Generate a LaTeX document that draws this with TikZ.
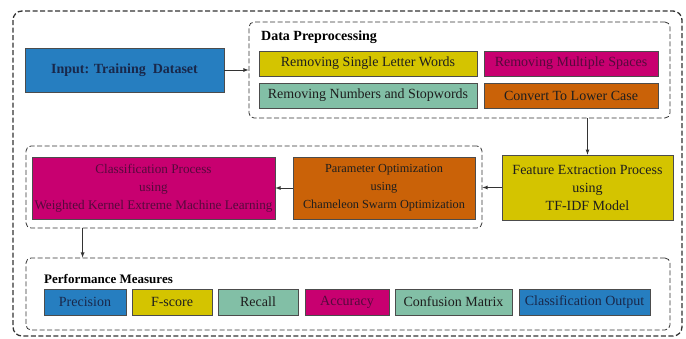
\documentclass[tikz,border=0pt]{standalone}
\usepackage{fontspec}
\setmainfont{Liberation Serif}
\usepackage{xcolor}
\usepackage{tikz}
\usetikzlibrary{shapes, positioning, arrows}
\definecolor{boxblue}{RGB}{38,126,192}
\definecolor{boxyellow}{RGB}{212,196,0}
\definecolor{boxmagenta}{RGB}{200,0,112}
\definecolor{boxgreen}{RGB}{130,191,166}
\definecolor{boxorange}{RGB}{202,98,8}
\definecolor{darktext}{RGB}{30,30,30}
\definecolor{navytext}{RGB}{25,40,75}
\definecolor{purpletext}{RGB}{85,10,60}

\begin{document}
\begin{tikzpicture}[x=1pt, y=-1pt,
	procbox/.style={draw=black!70, line width=0.6pt, inner sep=0pt, align=center,
		text=darktext, font=\fontsize{14}{18}\selectfont},
	dashbox/.style={draw=black!80, line width=0.8pt, dash pattern=on 5pt off 2.5pt,
		rounded corners=5pt, inner sep=0pt},
	flow/.style={-latex, draw=black!80, line width=0.8pt}]
				\useasboundingbox (0,0) rectangle (686,338);
				
				% outer frame
				\draw [dashbox, line width=1.3pt, rounded corners=9pt] (13,11) rectangle (682,336);
				
				\node [procbox, fill=boxblue, text=navytext, minimum width=199pt, minimum height=44pt,
				font=\fontsize{14}{18}\selectfont\bfseries] (input) at (124.5,70) {Input: Training~~Dataset};
				
				% data preprocessing
				\node [dashbox, minimum width=421pt, minimum height=96pt] (prep) at (459.5,70) {};
				\node [anchor=west, inner sep=0pt, font=\fontsize{14}{18}\selectfont\bfseries] (preptitle) at (261,37) {Data Preprocessing};
				\node [procbox, fill=boxyellow, minimum width=218pt, minimum height=25pt] (single) at (368,63.5) {Removing Single Letter Words};
				\node [procbox, fill=boxmagenta, text=purpletext, minimum width=174pt, minimum height=25pt] (spaces) at (571,63.5) {Removing Multiple Spaces};
				\node [procbox, fill=boxgreen, minimum width=218pt, minimum height=25pt] (numbers) at (368,95.5) {Removing Numbers and Stopwords};
				\node [procbox, fill=boxorange, minimum width=174pt, minimum height=25pt] (lower) at (571,95.5) {Convert To Lower Case};
				
				\node [procbox, fill=boxyellow, minimum width=171pt, minimum height=65pt] (feature) at (587.5,187.5)
				{Feature Extraction Process\\using\\TF-IDF Model};
				
				% optimization and classification
				\node [dashbox, minimum width=456pt, minimum height=82pt] (optim) at (254,187) {};
				\node [procbox, fill=boxorange, minimum width=182pt, minimum height=62pt,
				font=\fontsize{12.3}{18}\selectfont] (param) at (384,188)
				{Parameter Optimization\\using\\Chameleon Swarm Optimization};
				\node [procbox, fill=boxmagenta, text=purpletext, minimum width=243pt, minimum height=62pt,
				font=\fontsize{13.2}{18}\selectfont] (classif) at (153.5,188)
				{Classification Process\\using\\Weighted Kernel Extreme Machine Learning};
				
				% performance measures
				\node [dashbox, minimum width=644pt, minimum height=72pt] (perf) at (348,294) {};
				\node [anchor=west, inner sep=0pt, font=\fontsize{13}{16}\selectfont\bfseries] (perftitle) at (44,279) {Performance Measures};
				\node [procbox, fill=boxblue, text=navytext, minimum width=82pt, minimum height=26pt] (precision) at (85,302) {Precision};
				\node [procbox, fill=boxyellow, minimum width=80pt, minimum height=26pt] (fscore) at (172,302) {F-score};
				\node [procbox, fill=boxgreen, minimum width=80pt, minimum height=26pt] (recall) at (258,302) {Recall};
				\node [procbox, fill=boxmagenta, text=purpletext, minimum width=84pt, minimum height=26pt] (accuracy) at (347,302) {Accuracy};
				\node [procbox, fill=boxgreen, minimum width=117pt, minimum height=26pt] (confusion) at (453.5,302) {Confusion Matrix};
				\node [procbox, fill=boxblue, text=navytext, minimum width=131pt, minimum height=26pt] (output) at (584.5,302) {Classification Output};
				
				\draw [flow] (input.east) -- (prep.west);
				\draw [flow] (feature.north |- prep.south) -- (feature.north);
				\draw [flow] (feature.west) -- (feature.west -| optim.east);
				\draw [flow] (param.west) -- (classif.east);
				\draw [flow] ([xshift=57pt]optim.south west) -- ([xshift=57pt]perf.north west);
			\end{tikzpicture}
\end{document}
